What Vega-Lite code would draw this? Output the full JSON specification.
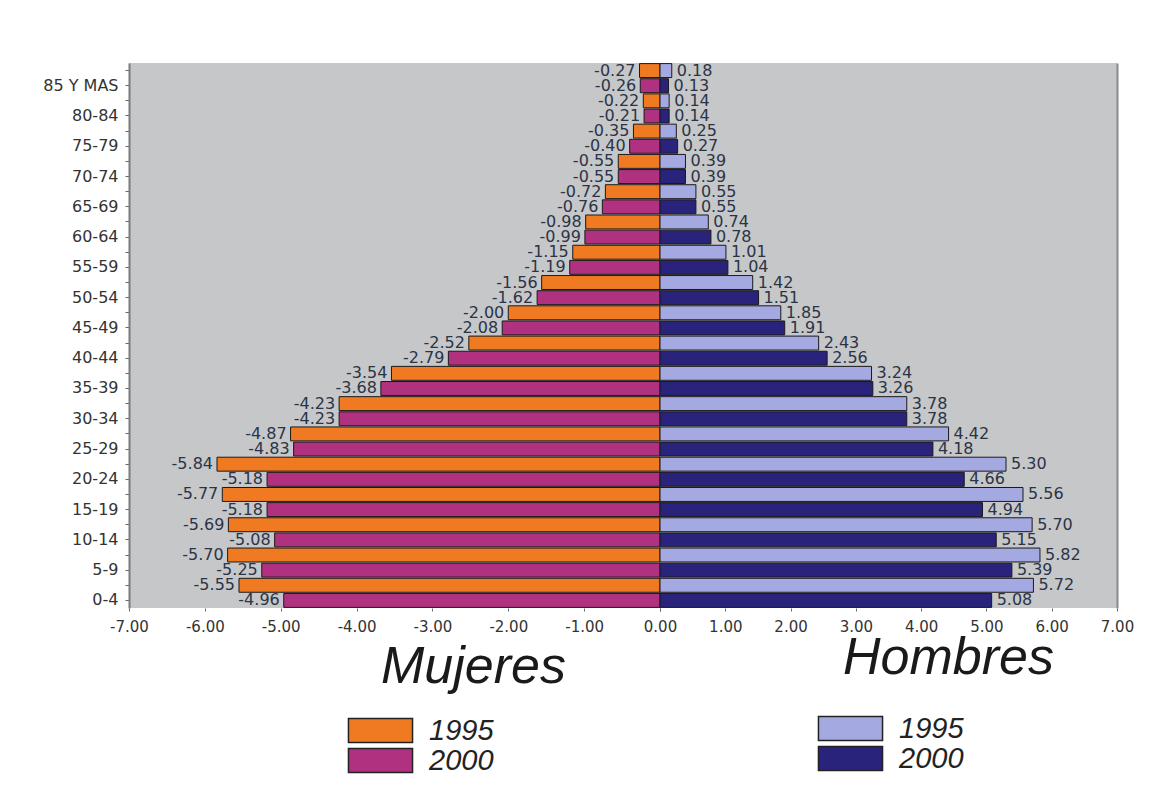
{
  "$schema": "https://vega.github.io/schema/vega-lite/v6.json",
  "background": "white",
  "padding": {"left": 29, "top": 62, "right": 10, "bottom": 5},
  "bounds": "flush",
  "data": {"values": [
    {"k": "85 Y MAS|1995", "year": "1995", "sex": "M", "v": -0.27}, {"k": "85 Y MAS|2000", "year": "2000", "sex": "M", "v": -0.26},
    {"k": "85 Y MAS|1995", "year": "1995", "sex": "H", "v": 0.18}, {"k": "85 Y MAS|2000", "year": "2000", "sex": "H", "v": 0.13},
    {"k": "80-84|1995", "year": "1995", "sex": "M", "v": -0.22}, {"k": "80-84|2000", "year": "2000", "sex": "M", "v": -0.21},
    {"k": "80-84|1995", "year": "1995", "sex": "H", "v": 0.14}, {"k": "80-84|2000", "year": "2000", "sex": "H", "v": 0.14},
    {"k": "75-79|1995", "year": "1995", "sex": "M", "v": -0.35}, {"k": "75-79|2000", "year": "2000", "sex": "M", "v": -0.40},
    {"k": "75-79|1995", "year": "1995", "sex": "H", "v": 0.25}, {"k": "75-79|2000", "year": "2000", "sex": "H", "v": 0.27},
    {"k": "70-74|1995", "year": "1995", "sex": "M", "v": -0.55}, {"k": "70-74|2000", "year": "2000", "sex": "M", "v": -0.55},
    {"k": "70-74|1995", "year": "1995", "sex": "H", "v": 0.39}, {"k": "70-74|2000", "year": "2000", "sex": "H", "v": 0.39},
    {"k": "65-69|1995", "year": "1995", "sex": "M", "v": -0.72}, {"k": "65-69|2000", "year": "2000", "sex": "M", "v": -0.76},
    {"k": "65-69|1995", "year": "1995", "sex": "H", "v": 0.55}, {"k": "65-69|2000", "year": "2000", "sex": "H", "v": 0.55},
    {"k": "60-64|1995", "year": "1995", "sex": "M", "v": -0.98}, {"k": "60-64|2000", "year": "2000", "sex": "M", "v": -0.99},
    {"k": "60-64|1995", "year": "1995", "sex": "H", "v": 0.74}, {"k": "60-64|2000", "year": "2000", "sex": "H", "v": 0.78},
    {"k": "55-59|1995", "year": "1995", "sex": "M", "v": -1.15}, {"k": "55-59|2000", "year": "2000", "sex": "M", "v": -1.19},
    {"k": "55-59|1995", "year": "1995", "sex": "H", "v": 1.01}, {"k": "55-59|2000", "year": "2000", "sex": "H", "v": 1.04},
    {"k": "50-54|1995", "year": "1995", "sex": "M", "v": -1.56}, {"k": "50-54|2000", "year": "2000", "sex": "M", "v": -1.62},
    {"k": "50-54|1995", "year": "1995", "sex": "H", "v": 1.42}, {"k": "50-54|2000", "year": "2000", "sex": "H", "v": 1.51},
    {"k": "45-49|1995", "year": "1995", "sex": "M", "v": -2.00}, {"k": "45-49|2000", "year": "2000", "sex": "M", "v": -2.08},
    {"k": "45-49|1995", "year": "1995", "sex": "H", "v": 1.85}, {"k": "45-49|2000", "year": "2000", "sex": "H", "v": 1.91},
    {"k": "40-44|1995", "year": "1995", "sex": "M", "v": -2.52}, {"k": "40-44|2000", "year": "2000", "sex": "M", "v": -2.79},
    {"k": "40-44|1995", "year": "1995", "sex": "H", "v": 2.43}, {"k": "40-44|2000", "year": "2000", "sex": "H", "v": 2.56},
    {"k": "35-39|1995", "year": "1995", "sex": "M", "v": -3.54}, {"k": "35-39|2000", "year": "2000", "sex": "M", "v": -3.68},
    {"k": "35-39|1995", "year": "1995", "sex": "H", "v": 3.24}, {"k": "35-39|2000", "year": "2000", "sex": "H", "v": 3.26},
    {"k": "30-34|1995", "year": "1995", "sex": "M", "v": -4.23}, {"k": "30-34|2000", "year": "2000", "sex": "M", "v": -4.23},
    {"k": "30-34|1995", "year": "1995", "sex": "H", "v": 3.78}, {"k": "30-34|2000", "year": "2000", "sex": "H", "v": 3.78},
    {"k": "25-29|1995", "year": "1995", "sex": "M", "v": -4.87}, {"k": "25-29|2000", "year": "2000", "sex": "M", "v": -4.83},
    {"k": "25-29|1995", "year": "1995", "sex": "H", "v": 4.42}, {"k": "25-29|2000", "year": "2000", "sex": "H", "v": 4.18},
    {"k": "20-24|1995", "year": "1995", "sex": "M", "v": -5.84}, {"k": "20-24|2000", "year": "2000", "sex": "M", "v": -5.18},
    {"k": "20-24|1995", "year": "1995", "sex": "H", "v": 5.30}, {"k": "20-24|2000", "year": "2000", "sex": "H", "v": 4.66},
    {"k": "15-19|1995", "year": "1995", "sex": "M", "v": -5.77}, {"k": "15-19|2000", "year": "2000", "sex": "M", "v": -5.18},
    {"k": "15-19|1995", "year": "1995", "sex": "H", "v": 5.56}, {"k": "15-19|2000", "year": "2000", "sex": "H", "v": 4.94},
    {"k": "10-14|1995", "year": "1995", "sex": "M", "v": -5.69}, {"k": "10-14|2000", "year": "2000", "sex": "M", "v": -5.08},
    {"k": "10-14|1995", "year": "1995", "sex": "H", "v": 5.70}, {"k": "10-14|2000", "year": "2000", "sex": "H", "v": 5.15},
    {"k": "5-9|1995", "year": "1995", "sex": "M", "v": -5.70}, {"k": "5-9|2000", "year": "2000", "sex": "M", "v": -5.25},
    {"k": "5-9|1995", "year": "1995", "sex": "H", "v": 5.82}, {"k": "5-9|2000", "year": "2000", "sex": "H", "v": 5.39},
    {"k": "0-4|1995", "year": "1995", "sex": "M", "v": -5.55}, {"k": "0-4|2000", "year": "2000", "sex": "M", "v": -4.96},
    {"k": "0-4|1995", "year": "1995", "sex": "H", "v": 5.72}, {"k": "0-4|2000", "year": "2000", "sex": "H", "v": 5.08}
  ]},
  "spacing": 0,
  "hconcat": [
    {
      "width": 531,
      "height": 545,
      "transform": [{"filter": "datum.sex == 'M'"}],
      "layer": [
        {
          "mark": {"type": "bar", "stroke": "#1a1a1a", "strokeWidth": 1},
          "encoding": {
            "y": {"field": "k", "type": "nominal", "sort": null,
              "scale": {"paddingInner": 0.08, "paddingOuter": 0.04},
              "axis": {"title": null, "labelExpr": "indexof(datum.label, '|2000') >= 0 ? split(datum.label, '|')[0] : ''",
                "labelFont": "DejaVu Sans", "labelFontSize": 16, "labelColor": "#333", "labelPadding": 7,
                "tickSize": 4, "tickColor": "#666", "domainColor": "#7a7a7a", "domainWidth": 2,
                "minExtent": 100, "maxExtent": 100}},
            "x": {"field": "v", "type": "quantitative",
              "scale": {"domain": [-7, 0], "nice": false, "zero": false},
              "axis": {"values": [-7, -6, -5, -4, -3, -2, -1, 0], "format": ".2f",
                "labelExpr": "datum.value == 0 ? '' : datum.label",
                "labelFont": "DejaVu Sans", "labelFontSize": 15, "labelColor": "#333", "labelPadding": 8,
                "labelFlush": false, "labelOverlap": false, "grid": false, "domain": false,
                "tickSize": 3, "tickColor": "#666",
                "title": "Mujeres", "titleFont": "Liberation Sans", "titleFontStyle": "italic", "titleFontWeight": "normal",
                "titleFontSize": 52, "titleColor": "#1a1a1a", "titleX": 344, "titleY": 74, "titleAlign": "center", "titleBaseline": "alphabetic"}},
            "color": {"field": "year", "type": "nominal", "scale": {"range": ["#F07A22", "#B0317F"]},
              "legend": {"title": null, "orient": "none", "legendX": 237, "legendY": 653,
                "symbolType": "M-2.67,-1H2.67V1H-2.67Z", "symbolSize": 576,
                "symbolStrokeColor": "#222", "symbolStrokeWidth": 1.5, "symbolOpacity": 1,
                "labelFont": "Liberation Sans", "labelFontStyle": "italic", "labelFontSize": 29, "labelColor": "#222",
                "labelOffset": 34, "rowPadding": -2, "padding": 0}}
          }
        },
        {
          "mark": {"type": "text", "align": "right", "baseline": "middle", "dx": -4, "font": "DejaVu Sans", "fontSize": 16, "color": "#2b3447"},
          "encoding": {
            "y": {"field": "k", "type": "nominal", "sort": null},
            "x": {"field": "v", "type": "quantitative"},
            "text": {"field": "v", "type": "quantitative", "format": ".2f"}
          }
        }
      ]
    },
    {
      "width": 457,
      "height": 545,
      "transform": [{"filter": "datum.sex == 'H'"}],
      "layer": [
        {
          "mark": {"type": "bar", "stroke": "#1a1a1a", "strokeWidth": 1},
          "encoding": {
            "y": {"field": "k", "type": "nominal", "sort": null,
              "axis": {"orient": "right", "title": null, "labels": false, "ticks": false, "domainColor": "#8a8a8a", "domainWidth": 2}},
            "x": {"field": "v", "type": "quantitative",
              "scale": {"domain": [0, 7], "nice": false},
              "axis": {"values": [0, 1, 2, 3, 4, 5, 6, 7], "format": ".2f",
                "labelFont": "DejaVu Sans", "labelFontSize": 15, "labelColor": "#333", "labelPadding": 8,
                "labelFlush": false, "labelOverlap": false, "grid": false, "domain": false,
                "tickSize": 3, "tickColor": "#666",
                "title": "Hombres", "titleFont": "Liberation Sans", "titleFontStyle": "italic", "titleFontWeight": "normal",
                "titleFontSize": 52, "titleColor": "#1a1a1a", "titleX": 288, "titleY": 65, "titleAlign": "center", "titleBaseline": "alphabetic"}},
            "color": {"field": "year", "type": "nominal", "scale": {"range": ["#A5A9E1", "#29237B"]},
              "legend": {"title": null, "orient": "none", "legendX": 176, "legendY": 651,
                "symbolType": "M-2.67,-1H2.67V1H-2.67Z", "symbolSize": 576,
                "symbolStrokeColor": "#222", "symbolStrokeWidth": 1.5, "symbolOpacity": 1,
                "labelFont": "Liberation Sans", "labelFontStyle": "italic", "labelFontSize": 29, "labelColor": "#222",
                "labelOffset": 34, "rowPadding": -2, "padding": 0}}
          }
        },
        {
          "mark": {"type": "text", "align": "left", "baseline": "middle", "dx": 5, "font": "DejaVu Sans", "fontSize": 16, "color": "#2b3447"},
          "encoding": {
            "y": {"field": "k", "type": "nominal", "sort": null},
            "x": {"field": "v", "type": "quantitative"},
            "text": {"field": "v", "type": "quantitative", "format": ".2f"}
          }
        }
      ]
    }
  ],
  "resolve": {"scale": {"x": "independent", "y": "shared", "color": "independent"}},
  "config": {
    "view": {"fill": "#C6C7C9", "stroke": null},
    "locale": {"number": {"decimal": ".", "thousands": ",", "grouping": [3], "currency": ["", ""], "minus": "-"}}
  }
}
